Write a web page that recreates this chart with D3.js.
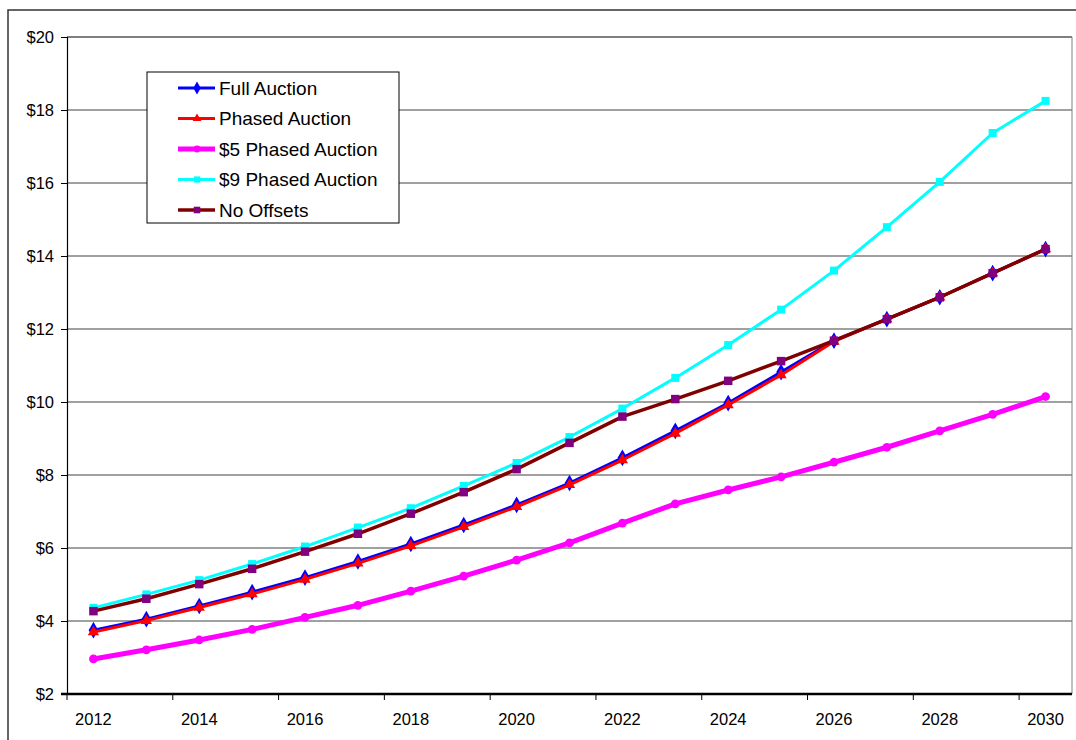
<!DOCTYPE html>
<html>
<head>
<meta charset="utf-8">
<script src="https://cdn.jsdelivr.net/npm/d3@7"></script>
<style>
  body { margin: 0; background: #fff; }
  svg { display: block; font-family: "Liberation Sans", Arial, sans-serif; }
</style>
</head>
<body>
<div id="chart"></div>
<script>
// Anni sull'asse x
const years = [2012, 2013, 2014, 2015, 2016, 2017, 2018, 2019, 2020, 2021,
               2022, 2023, 2024, 2025, 2026, 2027, 2028, 2029, 2030];
const yTicks = [2, 4, 6, 8, 10, 12, 14, 16, 18, 20];

// Valori ($)
const fullAuction   = [3.75, 4.05, 4.41, 4.79, 5.19, 5.63, 6.11, 6.63, 7.18, 7.78, 8.47, 9.21, 9.97, 10.82, 11.68, 12.27, 12.87, 13.53, 14.19];
const phasedAuction = [3.70, 4.01, 4.37, 4.74, 5.14, 5.58, 6.06, 6.58, 7.13, 7.73, 8.41, 9.14, 9.92, 10.74, 11.66, 12.27, 12.87, 13.53, 14.19];
const fivePhased    = [2.96, 3.21, 3.48, 3.77, 4.10, 4.43, 4.82, 5.23, 5.67, 6.14, 6.68, 7.21, 7.59, 7.95, 8.35, 8.76, 9.21, 9.66, 10.15];
const ninePhased    = [4.36, 4.73, 5.12, 5.56, 6.04, 6.56, 7.09, 7.70, 8.33, 9.04, 9.82, 10.66, 11.56, 12.53, 13.60, 14.79, 16.03, 17.37, 18.25];
const noOffsets     = [4.27, 4.61, 5.01, 5.43, 5.90, 6.39, 6.94, 7.53, 8.16, 8.88, 9.60, 10.08, 10.58, 11.12, 11.68, 12.27, 12.87, 13.53, 14.19];

const seriesNames = ["Full Auction", "Phased Auction", "$5 Phased Auction", "$9 Phased Auction", "No Offsets"];

const series = [
  { name: seriesNames[0], values: fullAuction,   line: "#0000FF", fill: "#0000FF", width: 3, symbol: d3.symbolDiamond,  size: 80 },
  { name: seriesNames[1], values: phasedAuction, line: "#FF0000", fill: "#FF0000", width: 3, symbol: d3.symbolTriangle, size: 55 },
  { name: seriesNames[2], values: fivePhased,    line: "#FF00FF", fill: "#FF00FF", width: 5, symbol: d3.symbolCircle,   size: 60 },
  { name: seriesNames[3], values: ninePhased,    line: "#00FFFF", fill: "#00FFFF", width: 3, symbol: d3.symbolSquare,   size: 64 },
  { name: seriesNames[4], values: noOffsets,     line: "#800000", fill: "#800080", width: 3.5, symbol: d3.symbolSquare, size: 72 }
];

const width = 1076, height = 740;
const plotLeft = 67, plotRight = 1072, plotTop = 37, plotBottom = 694;

const svg = d3.select("#chart").append("svg")
  .attr("width", width)
  .attr("height", height);

// bordo esterno del grafico
svg.append("rect")
  .attr("x", 8).attr("y", 10)
  .attr("width", 1100).attr("height", 800)
  .attr("fill", "none")
  .attr("stroke", "#333").attr("stroke-width", 1.5);

const x = d3.scaleBand().domain(years).range([plotLeft, plotRight]).padding(0);
const y = d3.scaleLinear().domain([2, 20]).range([plotBottom, plotTop]);
const cx = d => x(d) + x.bandwidth() / 2;

// griglia orizzontale
svg.append("g")
  .selectAll("line")
  .data(yTicks.slice(1))
  .join("line")
  .attr("x1", plotLeft).attr("x2", plotRight)
  .attr("y1", d => y(d)).attr("y2", d => y(d))
  .attr("stroke", d => d === 20 ? "#000" : "#808080")
  .attr("stroke-width", d => d === 20 ? 1 : 1.5);

// bordo destro area dati
svg.append("line")
  .attr("x1", plotRight).attr("x2", plotRight)
  .attr("y1", plotTop).attr("y2", plotBottom)
  .attr("stroke", "#808080").attr("stroke-width", 1);

// asse y
const yAxis = svg.append("g")
  .attr("transform", `translate(${plotLeft},0)`)
  .call(d3.axisLeft(y).tickValues(yTicks).tickFormat(d => "$" + d).tickSize(6).tickPadding(7));
yAxis.select(".domain").attr("stroke", "#000").attr("stroke-width", 1.2);
yAxis.selectAll("text").attr("font-size", 16.5).attr("fill", "#000").attr("font-family", "Liberation Sans, Arial, sans-serif");

// asse x: tacche ai bordi delle categorie pari, etichette al centro
const evenYears = years.filter((d, i) => i % 2 === 0);
const xAxis = svg.append("g")
  .attr("transform", `translate(0,${plotBottom})`)
  .call(d3.axisBottom(x).tickValues(evenYears).tickSize(0).tickPadding(19));
xAxis.select(".domain").remove();
xAxis.selectAll("text").attr("font-size", 16.5).attr("fill", "#000").attr("font-family", "Liberation Sans, Arial, sans-serif");

svg.append("g")
  .selectAll("line")
  .data(evenYears)
  .join("line")
  .attr("x1", d => x(d)).attr("x2", d => x(d))
  .attr("y1", plotBottom).attr("y2", plotBottom + 6)
  .attr("stroke", "#000").attr("stroke-width", 1);

svg.append("line")
  .attr("x1", plotLeft - 6).attr("x2", plotRight)
  .attr("y1", plotBottom).attr("y2", plotBottom)
  .attr("stroke", "#000").attr("stroke-width", 2.5);

// linee e marcatori
const line = d3.line()
  .x((d, i) => cx(years[i]))
  .y(d => y(d));

series.forEach(s => {
  const g = svg.append("g");
  g.append("path")
    .datum(s.values)
    .attr("d", line)
    .attr("fill", "none")
    .attr("stroke", s.line)
    .attr("stroke-width", s.width)
    .attr("stroke-linejoin", "round");
  g.selectAll("path.m")
    .data(s.values)
    .join("path")
    .attr("class", "m")
    .attr("transform", (d, i) => `translate(${cx(years[i])},${y(d)})`)
    .attr("d", d3.symbol().type(s.symbol).size(s.size))
    .attr("fill", s.fill);
});

// legenda
const legend = svg.append("g");
legend.append("rect")
  .attr("x", 147).attr("y", 72)
  .attr("width", 252).attr("height", 151)
  .attr("fill", "#fff")
  .attr("stroke", "#000").attr("stroke-width", 1);

series.forEach((s, i) => {
  const ly = 88 + i * 30.5;
  legend.append("line")
    .attr("x1", 178).attr("x2", 215)
    .attr("y1", ly).attr("y2", ly)
    .attr("stroke", s.line).attr("stroke-width", s.width);
  legend.append("path")
    .attr("transform", `translate(197,${ly})`)
    .attr("d", d3.symbol().type(s.symbol).size(s.size * 0.6))
    .attr("fill", s.fill);
  legend.append("text")
    .attr("x", 219).attr("y", ly)
    .attr("dy", "0.35em")
    .attr("font-size", 19)
    .attr("fill", "#000")
    .text(s.name);
});
</script>
</body>
</html>
